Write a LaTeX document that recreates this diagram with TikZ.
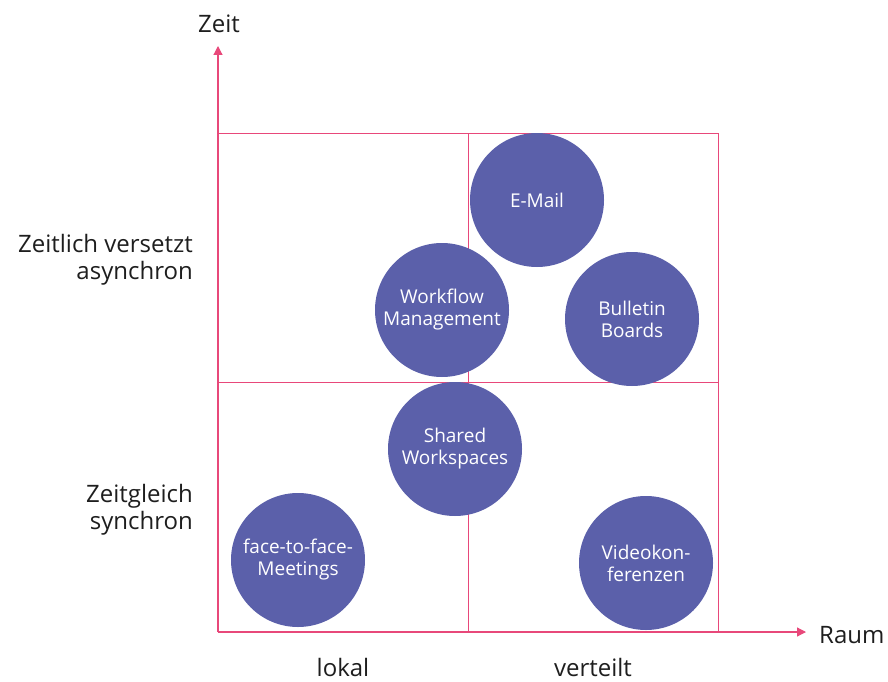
\documentclass[tikz,border=0pt]{standalone}
\usepackage{fontspec}
\setmainfont{Open Sans}
\usetikzlibrary{arrows.meta}
\definecolor{gridpink}{RGB}{232,72,122}
\definecolor{bubble}{RGB}{91,96,170}
\definecolor{labelgray}{RGB}{30,30,30}
\begin{document}
\begin{tikzpicture}[x=1pt,y=-1pt,
  gridline/.style={draw=gridpink,line width=1pt},
  axis/.style={draw=gridpink,line width=1.2pt,-{Triangle[length=9pt,width=9pt]}},
  bub/.style={circle,fill=bubble,minimum size=134pt,inner sep=0pt,align=center,
    text=white,font=\fontsize{19}{22}\selectfont},
  lbl/.style={text=labelgray,font=\fontsize{24}{27}\selectfont,inner sep=0pt}]
\useasboundingbox (0,0) rectangle (888,682);
% quadrant grid
\coordinate (o) at (218,632);
\coordinate (yt) at (218,46);
\coordinate (xt) at (806,632);
\draw[gridline] (218,133) rectangle (718,632);
\draw[gridline] (468,133) -- (468,632);
\draw[gridline] (218,382) -- (718,382);
% axes
\draw[axis] (o) -- (yt);
\draw[axis] (o) -- (xt);
\node[lbl,anchor=base] (zeit) at (219,33) {Zeit};
\node[lbl,anchor=base west] (raum) at (819,643) {Raum};
% axis category labels
\node[lbl,anchor=east,align=right] (async) at (193,260) {Zeitlich versetzt\\asynchron};
\node[lbl,anchor=east,align=right] (sync) at (193,510) {Zeitgleich\\synchron};
\node[lbl,anchor=base] (lokal) at (343,676) {lokal};
\node[lbl,anchor=base] (verteilt) at (593,676) {verteilt};
% tools
\node[bub] (email) at (537,200) {E-Mail};
\node[bub] (workflow) at (442,310) {Workflow\\Management};
\node[bub] (bulletin) at (632,319) {Bulletin\\Boards};
\node[bub] (shared) at (455,449) {Shared\\Workspaces};
\node[bub] (f2f) at (298,560) {face-to-face-\\Meetings};
\node[bub] (video) at (646,563) {Videokon-\\ferenzen};
\end{tikzpicture}
\end{document}
